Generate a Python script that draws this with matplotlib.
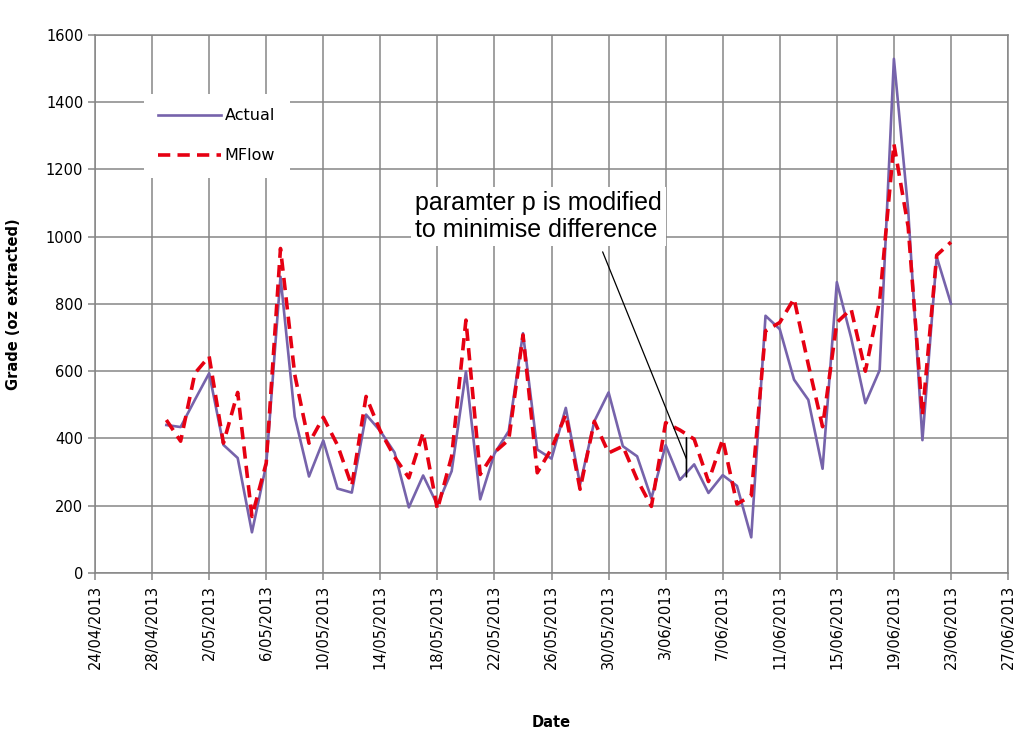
import numpy as np
import pandas as pd
import matplotlib
matplotlib.use("Agg")
import matplotlib.pyplot as plt
import matplotlib.dates as mdates

# daily readings 29/04/2013 - 23/06/2013
dates = pd.date_range("2013-04-29", "2013-06-23", freq="D")

actual = [440, 434, 515, 594, 381, 342, 121, 322, 881, 465,
          287, 394, 251, 239, 471, 422, 358, 195, 290, 202,
          303, 599, 219, 355, 422, 713, 367, 340, 491, 263,
          451, 537, 377, 347, 222, 380, 277, 323, 238, 291,
          259, 106, 765, 725, 575, 515, 310, 865, 700, 505,
          603, 1529, 1080, 395, 940, 801]

mflow = [455, 392, 594, 644, 386, 537, 168, 327, 965, 590,
         386, 463, 380, 259, 525, 422, 345, 283, 417, 189,
         347, 752, 293, 359, 396, 708, 298, 370, 471, 249,
         451, 357, 377, 278, 198, 447, 425, 398, 272, 398,
         205, 230, 720, 745, 816, 620, 435, 745, 785, 600,
         810, 1276, 1030, 470, 945, 984]

xticks = pd.date_range("2013-04-24", "2013-06-27", freq="4D")
yticks = [0, 200, 400, 600, 800, 1000, 1200, 1400, 1600]

grid_col = "#868686"

fig = plt.figure(figsize=(10.24, 7.38), dpi=100)
ax = fig.add_axes([0.0928, 0.2236, 0.8916, 0.729])

ax.plot(dates, actual, color="#7663ab", lw=1.9, label="Actual", zorder=3)
ax.plot(dates, mflow, color="#e60012", lw=2.6, dashes=(3.4, 2.0),
        label="MFlow", zorder=4)

ax.set_xlim(xticks[0], xticks[-1])
ax.set_ylim(0, 1600)
ax.set_xticks(xticks)
ax.set_yticks(yticks)
ax.xaxis.set_major_formatter(
    matplotlib.ticker.FuncFormatter(
        lambda v, p: "{d.day}/{d.month:02d}/{d.year}".format(d=mdates.num2date(v))))
plt.setp(ax.get_xticklabels(), rotation=90)

ax.grid(True, color=grid_col, lw=1.1, zorder=0)
ax.set_axisbelow(True)
for s in ax.spines.values():
    s.set_color(grid_col)
    s.set_linewidth(1.1)
ax.tick_params(axis="both", colors=grid_col, labelcolor="black",
               labelsize=10.5, length=5, width=1.1)

ax.set_xlabel("Date", fontsize=10.5, fontweight="bold", labelpad=33)
ax.set_ylabel("Grade (oz extracted)", fontsize=10.5, fontweight="bold", labelpad=18)

leg = ax.legend(loc="upper left", bbox_to_anchor=(0.045, 0.905), fontsize=11.5,
                handlelength=3.9, labelspacing=1.55, handletextpad=0.25,
                borderpad=0.9, fancybox=False, framealpha=1)
leg.get_frame().set_edgecolor("white")
leg.get_frame().set_linewidth(0)

# annotation
ax.text(pd.Timestamp("2013-05-16 10:00"), 1060,
        "paramter p is modified\nto minimise difference",
        fontsize=18, family="Liberation Sans", ha="left", va="center",
        linespacing=1.12, zorder=5,
        bbox=dict(facecolor="white", edgecolor="none", pad=3))
ax.annotate("", xy=(pd.Timestamp("2013-06-04 11:00"), 339),
            xytext=(pd.Timestamp("2013-05-29 14:00"), 955),
            arrowprops=dict(arrowstyle="-", color="black", lw=0.9,
                            shrinkA=0, shrinkB=0), zorder=5)
ax.annotate("", xy=(pd.Timestamp("2013-06-04 11:00"), 286),
            xytext=(pd.Timestamp("2013-06-04 11:00"), 402),
            arrowprops=dict(arrowstyle="-", color="black", lw=1.2,
                            shrinkA=0, shrinkB=0), zorder=5)

fig.savefig("out.png", dpi=100, facecolor="white")
